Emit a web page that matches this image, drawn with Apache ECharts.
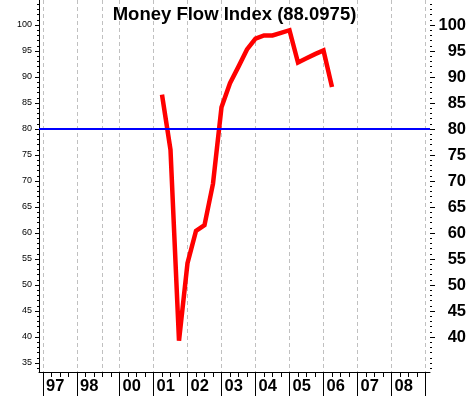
<!DOCTYPE html>
<html><head><meta charset="utf-8">
<script src="https://cdn.jsdelivr.net/npm/echarts@6/dist/echarts.min.js"></script>
<style>html,body{margin:0;padding:0;background:#fff}#c{width:469px;height:396px}</style>
</head><body><div id="c"></div>
<script>
// Quarterly axis categories (the source chart skips some quarters in 98/99)
const quarters = ['97Q1','97Q2','97Q3','97Q4','98Q1','98Q2','98Q3','99Q1','99Q2',
  '00Q1','00Q2','00Q3','00Q4','01Q1','01Q2','01Q3','01Q4','02Q1','02Q2','02Q3','02Q4',
  '03Q1','03Q2','03Q3','03Q4','04Q1','04Q2','04Q3','04Q4','05Q1','05Q2','05Q3','05Q4',
  '06Q1','06Q2','06Q3','06Q4','07Q1','07Q2','07Q3','07Q4','08Q1','08Q2','08Q3','08Q4','09Q1'];
// Money Flow Index series
const mfiQuarters = ['01Q2','01Q3','01Q4','02Q1','02Q2','02Q3','02Q4','03Q1','03Q2','03Q3','03Q4',
  '04Q1','04Q2','04Q3','04Q4','05Q1','05Q2','05Q3','05Q4','06Q1','06Q2'];
const mfiValues = [86.6, 76.0, 39.3, 54.2, 60.4, 61.5, 69.5, 84.2, 88.8, 92.0, 95.3,
  97.4, 98.0, 98.0, 98.5, 99.0, 92.8, 93.6, 94.4, 95.1, 88.1];
const refLevel = 80;
// Tick labels
const yearLabels = ['97','98','00','01','02','03','04','05','06','07','08'];
const longTickYears = ['97','98','00','01','02','03','04','05','06','07','08','09'];
const gridYears = ['97','98','99','00','01','02','03','04','05','06','07','08','09'];
const leftTickLabels = [35,40,45,50,55,60,65,70,75,80,85,90,95,100];
const rightTickLabels = [40,45,50,55,60,65,70,75,80,85,90,95,100];
const minorTicks = [];
for (let v = 34; v <= 104; v++) minorTicks.push(v);

const qIdx = q => quarters.indexOf(q);
const yearIdx = y => qIdx(y + 'Q1');
const allQuarterIdx = quarters.map((q, i) => i);
const labelIdx = yearLabels.map(yearIdx);
const longIdx = longTickYears.map(yearIdx);
const gridIdx = gridYears.map(yearIdx);
const idxToYear = {};
yearLabels.forEach(y => { idxToYear[yearIdx(y)] = y; });

const FONT = 'Liberation Sans, Arial, sans-serif';
const XMIN = -0.47, XMAX = 45.53, YMIN = 33.27, YMAX = 104.81;

const xBase = {type: 'value', min: XMIN, max: XMAX, position: 'bottom', gridIndex: 0};
const yBase = {type: 'value', min: YMIN, max: YMAX, gridIndex: 0, splitLine: {show: false}};

const chart = echarts.init(document.getElementById('c'), null, {renderer: 'canvas'});
chart.setOption({
  animation: false,
  backgroundColor: '#ffffff',
  title: {
    text: 'Money Flow Index (88.0975)', left: 'center', top: 0,
    textStyle: {fontFamily: FONT, fontSize: 18.5, fontWeight: 'bold', color: '#000'}
  },
  grid: {left: 39, right: 38, top: 0, bottom: 24, containLabel: false},
  xAxis: [
    Object.assign({}, xBase, {
      axisLine: {show: true, onZero: false, lineStyle: {color: '#000', width: 1}},
      axisTick: {show: true, length: 5, customValues: allQuarterIdx, lineStyle: {color: '#000'}},
      axisLabel: {show: false},
      splitLine: {show: false}
    }),
    Object.assign({}, xBase, {
      axisLine: {show: false, onZero: false},
      axisTick: {show: true, length: 24, customValues: longIdx, lineStyle: {color: '#000', width: 1}},
      axisLabel: {
        show: true, customValues: labelIdx, align: 'left', margin: 6, padding: [0, 0, 0, 3],
        fontFamily: FONT, fontSize: 16.5, fontWeight: 'bold', color: '#000',
        formatter: v => idxToYear[Math.round(v)] || ''
      },
      splitLine: {show: false}
    }),
    Object.assign({}, xBase, {
      axisLine: {show: false, onZero: false},
      axisTick: {show: false, customValues: gridIdx},
      axisLabel: {show: false},
      splitLine: {show: true, lineStyle: {color: '#c0c0c0', width: 1, type: [4, 3]}}
    })
  ],
  yAxis: [
    Object.assign({}, yBase, {
      position: 'left',
      axisLine: {show: true, onZero: false, lineStyle: {color: '#000', width: 1}},
      axisTick: {show: true, length: 4, customValues: leftTickLabels, lineStyle: {color: '#000'}},
      axisLabel: {show: true, customValues: leftTickLabels, margin: 7,
        fontFamily: FONT, fontSize: 9, color: '#000'}
    }),
    Object.assign({}, yBase, {
      position: 'right',
      axisLine: {show: false, onZero: false},
      axisTick: {show: true, length: 5, customValues: rightTickLabels, lineStyle: {color: '#000'}},
      axisLabel: {show: true, customValues: rightTickLabels, margin: 36, align: 'right',
        fontFamily: FONT, fontSize: 16.5, fontWeight: 'bold', color: '#000'}
    }),
    Object.assign({}, yBase, {
      position: 'left',
      axisLine: {show: false, onZero: false},
      axisTick: {show: true, length: 2, customValues: minorTicks, lineStyle: {color: '#000'}},
      axisLabel: {show: false}
    }),
    Object.assign({}, yBase, {
      position: 'right',
      axisLine: {show: false, onZero: false},
      axisTick: {show: true, length: 2, customValues: minorTicks, lineStyle: {color: '#000'}},
      axisLabel: {show: false}
    })
  ],
  series: [{
    type: 'line',
    xAxisIndex: 0, yAxisIndex: 0,
    data: mfiQuarters.map((q, i) => [qIdx(q), mfiValues[i]]),
    showSymbol: false, symbol: 'none',
    lineStyle: {color: '#ff0000', width: 4.5, join: 'miter'},
    z: 3,
    markLine: {
      silent: true, symbol: ['none', 'none'], label: {show: false},
      lineStyle: {color: '#0000ff', width: 2, type: 'solid'},
      data: [{yAxis: refLevel}]
    }
  }]
});
</script></body></html>
